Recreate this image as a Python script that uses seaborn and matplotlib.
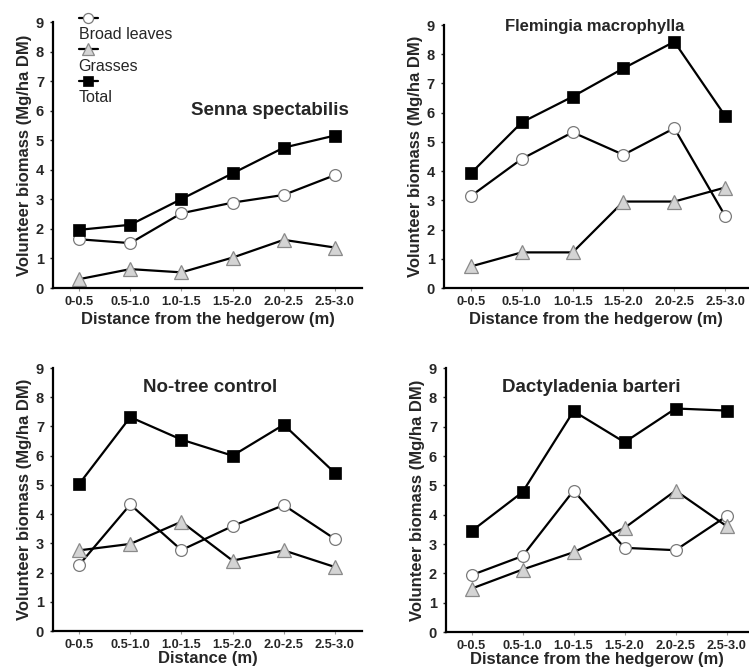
import matplotlib
matplotlib.use("Agg")
import matplotlib.pyplot as plt
from matplotlib.lines import Line2D
import seaborn as sns
import pandas as pd
import numpy as np

sns.set_style("white")
plt.rcParams['font.family'] = ['Liberation Sans', 'DejaVu Sans']

categories = ["0-0.5", "0.5-1.0", "1.0-1.5", "1.5-2.0", "2.0-2.5", "2.5-3.0"]
series_names = ["Broad leaves", "Grasses", "Total"]

senna_broad = [1.65, 1.52, 2.53, 2.89, 3.15, 3.82]
senna_grass = [0.30, 0.64, 0.53, 1.03, 1.63, 1.37]
senna_total = [1.97, 2.14, 3.01, 3.88, 4.75, 5.16]

flem_broad = [3.15, 4.42, 5.33, 4.56, 5.47, 2.47]
flem_grass = [0.74, 1.22, 1.22, 2.96, 2.96, 3.44]
flem_total = [3.93, 5.67, 6.55, 7.52, 8.43, 5.89]

ctrl_broad = [2.26, 4.33, 2.77, 3.59, 4.31, 3.15]
ctrl_grass = [2.76, 2.98, 3.74, 2.41, 2.76, 2.19]
ctrl_total = [5.03, 7.32, 6.55, 6.00, 7.06, 5.41]

dact_broad = [1.94, 2.59, 4.82, 2.87, 2.79, 3.95]
dact_grass = [1.48, 2.13, 2.72, 3.55, 4.82, 3.61]
dact_total = [3.44, 4.77, 7.53, 6.47, 7.62, 7.55]

titles = ["Senna spectabilis", "Flemingia macrophylla", "No-tree control", "Dactyladenia barteri"]
xlabels = ["Distance from the hedgerow (m)", "Distance from the hedgerow (m)",
           "Distance (m)", "Distance from the hedgerow (m)"]
ylabel = "Volunteer biomass (Mg/ha DM)"

panels = [
    (senna_broad, senna_grass, senna_total),
    (flem_broad, flem_grass, flem_total),
    (ctrl_broad, ctrl_grass, ctrl_total),
    (dact_broad, dact_grass, dact_total),
]

styles = {
    "Broad leaves": dict(marker="o", markerfacecolor="white", markeredgecolor="#7a7a7a",
                         markersize=8.5, markeredgewidth=0.9),
    "Grasses": dict(marker="^", markerfacecolor="#d4d4d4", markeredgecolor="#8a8a8a",
                    markersize=9.5, markeredgewidth=0.9),
    "Total": dict(marker="s", markerfacecolor="black", markeredgecolor="black",
                  markersize=8.5, markeredgewidth=0.5),
}

fig = plt.figure(figsize=(7.49, 6.70), dpi=100)
axes_pos = [
    [0.0708, 0.5701, 0.4125, 0.3970],
    [0.5928, 0.5701, 0.4059, 0.3925],
    [0.0708, 0.0582, 0.4125, 0.3925],
    [0.5955, 0.0567, 0.4032, 0.3940],
]
xlims = [(-0.51, 5.53), (-0.53, 5.45), (-0.51, 5.53), (-0.50, 5.42)]
title_pos = [(3.73, 6.0, 13.5), (2.44, 8.95, 12),
             (2.56, 8.35, 13.5), (2.35, 8.33, 13.5)]
xlabel_pads = [3, 3, 0.5, 0.5]

for i, (pos, vals) in enumerate(zip(axes_pos, panels)):
    ax = fig.add_axes(pos)
    df = pd.DataFrame({
        "x": np.tile(np.arange(len(categories)), 3),
        "y": np.concatenate(vals),
        "series": np.repeat(series_names, len(categories)),
    })
    for name in series_names:
        sub = df[df["series"] == name]
        sns.lineplot(data=sub, x="x", y="y", ax=ax, color="black", linewidth=1.6,
                     sort=False, legend=False, **styles[name])
    ax.set_xlim(*xlims[i])
    ax.set_ylim(0, 9)
    ax.set_xticks(np.arange(len(categories)))
    ax.set_xticklabels(categories, fontsize=9.2, fontweight="bold")
    ax.set_yticks(range(10))
    ax.set_yticklabels([str(v) for v in range(10)], fontsize=10.5, fontweight="bold")
    ax.tick_params(axis="x", length=2, width=0.8, color="#999999", pad=3.5,
                   direction="out", bottom=True)
    ax.tick_params(axis="y", length=2.5, width=1, pad=4, direction="out", left=True)
    for s in ["top", "right"]:
        ax.spines[s].set_visible(False)
    for s in ["left", "bottom"]:
        ax.spines[s].set_linewidth(1.6)
        ax.spines[s].set_color("black")
    ax.set_xlabel(xlabels[i], fontsize=12, fontweight="bold", labelpad=xlabel_pads[i])
    ax.set_ylabel(ylabel, fontsize=12, fontweight="bold", labelpad=3)
    tx, ty, tfs = title_pos[i]
    ax.text(tx, ty, titles[i], ha="center", va="center", fontsize=tfs, fontweight="bold")

    if i == 0:
        blank = Line2D([], [], linestyle="none", marker="none")
        handles, labels = [], []
        for name in series_names:
            st = styles[name]
            h = Line2D([], [], color="black", linewidth=1.6,
                       marker=st["marker"], markerfacecolor=st["markerfacecolor"],
                       markeredgecolor=st["markeredgecolor"],
                       markersize=st["markersize"] * 0.85,
                       markeredgewidth=st["markeredgewidth"])
            handles += [h, blank]
            labels += ["", name]
        ax.legend(handles, labels, loc="upper left",
                  bbox_to_anchor=(0.083, 1.04, 0.5, 0.0),
                  bbox_transform=ax.transAxes,
                  frameon=False, fontsize=11.5, handlelength=1.2,
                  handletextpad=-1.2, labelspacing=0.05, borderpad=0,
                  borderaxespad=0)

fig.savefig("out.png", dpi=100)
